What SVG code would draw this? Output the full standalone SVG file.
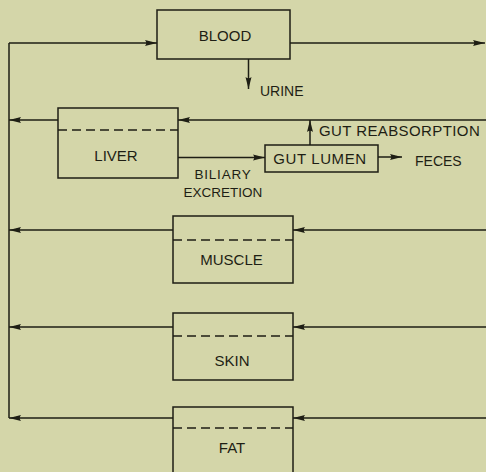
<svg xmlns="http://www.w3.org/2000/svg" width="486" height="472" viewBox="0 0 486 472">
<defs>
<marker id="ah" markerUnits="userSpaceOnUse" markerWidth="14" markerHeight="9" refX="12" refY="4" orient="auto">
<path d="M0,1 L12,4 L0,7 Q2.5,4 0,1 z" fill="#1e1e14"/>
</marker>
<style>
.box{fill:none;stroke:#1e1e14;stroke-width:1.5}
.dash{stroke:#1e1e14;stroke-width:1.5;stroke-dasharray:9 5}
.ln{fill:none;stroke:#1e1e14;stroke-width:1.5}
.arr{fill:none;stroke:#1e1e14;stroke-width:1.5;marker-end:url(#ah)}
text{font-family:"Liberation Sans",Arial,sans-serif;fill:#1e1e14}
.lbl{font-size:15px;text-anchor:middle}
.sm{font-size:14px}
</style>
</defs>
<rect width="486" height="472" fill="#d4d6a9"/>
<g id="connectors">
<path class="ln" d="M9,418 L9,43"/>
<path class="arr" d="M9,43 L157,43"/>
<path class="arr" d="M290,43 L485,43"/>
<path class="arr" d="M248.5,59 L248.5,89"/>
<path class="arr" d="M486,120 L178,120"/>
<path class="arr" d="M58,120 L9,120"/>
<path class="arr" d="M178,157.5 L265,157.5"/>
<path class="arr" d="M378,157 L402,157"/>
<path class="arr" d="M310,145 L310,120"/>
<path class="arr" d="M486,230 L293,230"/>
<path class="arr" d="M173,230 L9,230"/>
<path class="arr" d="M486,327 L293,327"/>
<path class="arr" d="M173,327 L9,327"/>
<path class="arr" d="M486,418 L293,418"/>
<path class="arr" d="M173,418 L9,418"/>
</g>
<g id="blood">
<rect class="box" x="157" y="10" width="133" height="49"/>
<text class="lbl" x="225" y="41">BLOOD</text>
</g>
<g id="urine">
<text class="sm" x="260" y="96">URINE</text>
</g>
<g id="liver">
<rect class="box" x="58" y="108" width="120" height="70"/>
<line class="dash" x1="58" y1="130" x2="178" y2="130"/>
<text class="lbl" x="116" y="160.5">LIVER</text>
</g>
<g id="biliary">
<text font-size="13.5" text-anchor="middle" x="223" y="179" letter-spacing="0.8">BILIARY</text>
<text font-size="13.5" text-anchor="middle" x="223" y="197">EXCRETION</text>
</g>
<g id="gut-lumen">
<rect class="box" x="265" y="145" width="113" height="27"/>
<text class="lbl" x="320" y="164" letter-spacing="0.6">GUT LUMEN</text>
</g>
<g id="reabsorption">
<text font-size="15" x="319" y="136" letter-spacing="0.4">GUT REABSORPTION</text>
</g>
<g id="feces">
<text class="sm" x="415" y="166">FECES</text>
</g>
<g id="muscle">
<rect class="box" x="173" y="216" width="120" height="67"/>
<line class="dash" x1="173" y1="240" x2="293" y2="240"/>
<text class="lbl" x="231.5" y="264.5">MUSCLE</text>
</g>
<g id="skin">
<rect class="box" x="173" y="313" width="120" height="67"/>
<line class="dash" x1="173" y1="336" x2="293" y2="336"/>
<text class="lbl" x="232" y="366">SKIN</text>
</g>
<g id="fat">
<rect class="box" x="173" y="407" width="120" height="80"/>
<line class="dash" x1="173" y1="428" x2="293" y2="428"/>
<text class="lbl" x="232" y="453">FAT</text>
</g>
</svg>
